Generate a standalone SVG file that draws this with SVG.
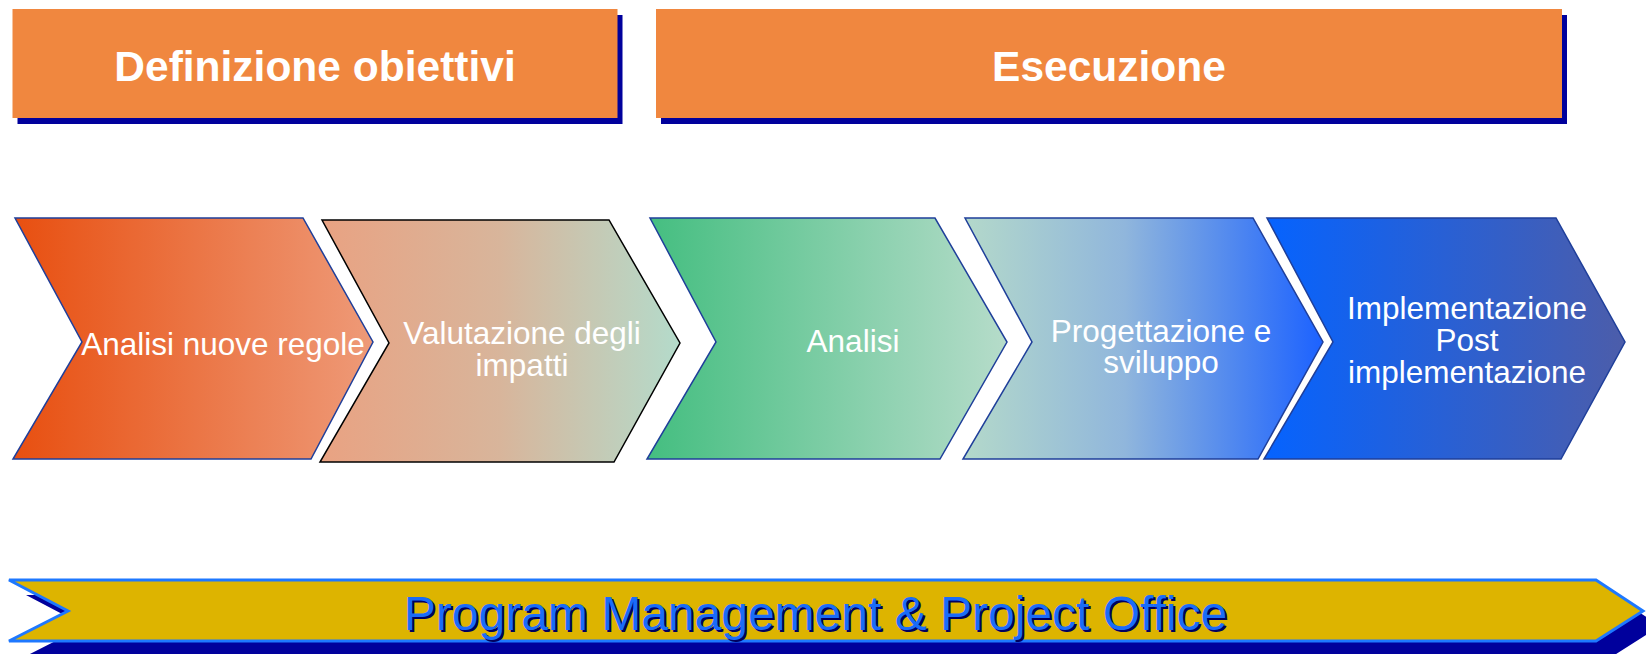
<svg xmlns="http://www.w3.org/2000/svg" width="1646" height="654" viewBox="0 0 1646 654">
  <style>
    .hdr { fill: #F0873F; }
    .shd { fill: #00009C; }
    .hdrtxt { font-family: "Liberation Sans", Arial, sans-serif; font-weight: bold; font-size: 42.5px; fill: #FFFFFF; text-anchor: middle; }
    .step { stroke: #1F3F9A; stroke-width: 1.5; stroke-linejoin: miter; }
    .steptxt { font-family: "Liberation Sans", Arial, sans-serif; font-size: 31.5px; fill: #FFFFFF; text-anchor: middle; }
    .bantxt { font-family: "Liberation Sans", Arial, sans-serif; font-size: 48px; text-anchor: middle; }
  </style>
  <defs>
    <linearGradient id="g1" x1="0" y1="0" x2="1" y2="0">
      <stop offset="0" stop-color="#E84F10"/>
      <stop offset="1" stop-color="#EE9A78"/>
    </linearGradient>
    <linearGradient id="g2" x1="0" y1="0" x2="1" y2="0">
      <stop offset="0" stop-color="#E9A282"/>
      <stop offset="0.5" stop-color="#D8B59B"/>
      <stop offset="1" stop-color="#B4DBCB"/>
    </linearGradient>
    <linearGradient id="g3" x1="0" y1="0" x2="1" y2="0">
      <stop offset="0" stop-color="#44BE80"/>
      <stop offset="1" stop-color="#B6DCCA"/>
    </linearGradient>
    <linearGradient id="g4" x1="0" y1="0" x2="1" y2="0">
      <stop offset="0" stop-color="#B4D9CA"/>
      <stop offset="0.45" stop-color="#90B6DC"/>
      <stop offset="1" stop-color="#1C62FF"/>
    </linearGradient>
    <linearGradient id="g5" x1="0" y1="0" x2="1" y2="0">
      <stop offset="0" stop-color="#0563FF"/>
      <stop offset="1" stop-color="#4C5DAA"/>
    </linearGradient>
  </defs>

  <g id="header-definizione">
    <rect class="shd" x="17.5" y="15" width="605" height="109"/>
    <rect class="hdr" x="12.5" y="9" width="605" height="109"/>
    <text class="hdrtxt" x="315" y="81">Definizione obiettivi</text>
  </g>

  <g id="header-esecuzione">
    <rect class="shd" x="661" y="15" width="906" height="109"/>
    <rect class="hdr" x="656" y="9" width="906" height="109"/>
    <text class="hdrtxt" x="1109" y="81">Esecuzione</text>
  </g>

  <g id="step-1">
    <polygon class="step" fill="url(#g1)" points="15,218 303,218 373,342 311,459 13,459 82,342"/>
    <text class="steptxt" x="223" y="355">Analisi nuove regole</text>
  </g>

  <g id="step-2">
    <polygon class="step" style="stroke:#000000" fill="url(#g2)" points="322,220 609,220 680,343 614,462 320,462 389,343"/>
    <text class="steptxt" x="522" y="344">Valutazione degli</text>
    <text class="steptxt" x="522" y="376">impatti</text>
  </g>

  <g id="step-3">
    <polygon class="step" fill="url(#g3)" points="650,218 935,218 1007,342 940,459 647,459 716,342"/>
    <text class="steptxt" x="853" y="352">Analisi</text>
  </g>

  <g id="step-4">
    <polygon class="step" fill="url(#g4)" points="965,218 1253,218 1323,342 1258,459 963,459 1032,342"/>
    <text class="steptxt" x="1161" y="342">Progettazione e</text>
    <text class="steptxt" x="1161" y="373">sviluppo</text>
  </g>

  <g id="step-5">
    <polygon class="step" fill="url(#g5)" points="1267,218 1556,218 1625,342 1561,459 1264,459 1333,342"/>
    <text class="steptxt" x="1467" y="319">Implementazione</text>
    <text class="steptxt" x="1467" y="351">Post</text>
    <text class="steptxt" x="1467" y="383">implementazione</text>
  </g>

  <g id="banner">
    <polygon class="shd" points="26,595 1613,595 1660,626 1613,656 26,656 85,626"/>
    <polygon fill="#DDB400" stroke="#1E78FF" stroke-width="3" points="9,580 1596,580 1643,611 1596,641 9,641 68,611"/>
    <text class="bantxt" x="817.5" y="632" fill="#000060">Program Management &amp; Project Office</text>
    <text class="bantxt" x="815.5" y="630" fill="#1A6CF8">Program Management &amp; Project Office</text>
  </g>

  <g id="connectors"/>
</svg>
